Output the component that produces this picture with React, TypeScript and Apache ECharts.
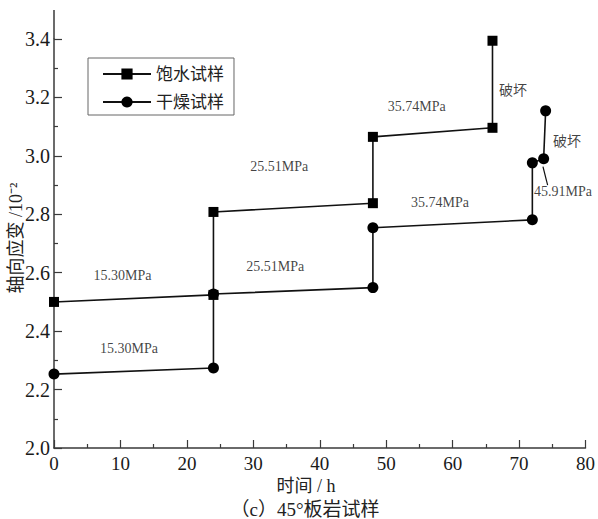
import React, { useEffect, useRef } from "react";
import * as echarts from "echarts";

// Saturated sample (饱水试样): time (h), axial strain (10^-2)
const saturatedTime = [0, 24, 24, 48, 48, 66, 66];
const saturatedStrain = [2.5, 2.524, 2.808, 2.838, 3.065, 3.096, 3.394];

// Dry sample (干燥试样)
const dryTime = [0, 24, 24, 48, 48, 72, 72, 73.7, 74];
const dryStrain = [2.253, 2.274, 2.527, 2.549, 2.754, 2.781, 2.976, 2.99, 3.154];

// Stress-level annotations in data coordinates: [time, strain, text]
const annotations: [number, number, string][] = [
  [10.3, 2.592, "15.30MPa"],
  [11.3, 2.342, "15.30MPa"],
  [33.9, 2.962, "25.51MPa"],
  [33.3, 2.62, "25.51MPa"],
  [54.6, 3.168, "35.74MPa"],
  [58.1, 2.839, "35.74MPa"],
  [76.6, 2.877, "45.91MPa"],
  [69.1, 3.223, "破坏"],
  [77.2, 3.048, "破坏"],
];
// Arrow from the 45.91MPa label to its point
const arrowFrom = [74.3, 2.9];
const arrowTo = [73.6, 2.963];

const seriesNames = ["饱水试样", "干燥试样"];
const xTicks = { min: 0, max: 80, interval: 10 };
const yTicks = { min: 2.0, max: 3.4, interval: 0.2 };

const serif = "Liberation Serif";
const cjk = "Liberation Serif, Noto Sans CJK SC, sans-serif";

export default function App() {
  const ref = useRef<HTMLDivElement>(null);
  useEffect(() => {
    if (!ref.current) return;
    const chart = echarts.init(ref.current, undefined, { renderer: "svg" });
    const axisColor = "#3a3a3a";
    const option: any = {
      animation: false,
      backgroundColor: "#ffffff",
      grid: { left: 54, right: 8, top: 39, bottom: 71, containLabel: false },
      legend: {
        data: seriesNames,
        orient: "vertical",
        left: 88,
        top: 58,
        padding: [7, 10, 4, 14],
        itemGap: 10,
        itemWidth: 48,
        itemHeight: 14,
        borderColor: "#666",
        borderWidth: 1,
        backgroundColor: "#fff",
        textStyle: { fontFamily: cjk, fontSize: 17, color: "#222", lineHeight: 18 },
      },
      xAxis: {
        type: "value",
        min: xTicks.min,
        max: xTicks.max,
        interval: xTicks.interval,
        axisLine: { show: true, lineStyle: { color: axisColor, width: 1.5 } },
        axisTick: { show: true, inside: true, length: 8, lineStyle: { color: axisColor, width: 1.2 } },
        minorTick: { show: true, splitNumber: 2, length: 4, lineStyle: { color: axisColor, width: 1.2 } },
        splitLine: { show: false },
        axisLabel: { fontFamily: serif, fontSize: 19, color: "#1a1a1a", margin: 6 },
      },
      yAxis: {
        type: "value",
        min: yTicks.min,
        max: yTicks.max,
        interval: yTicks.interval,
        axisLine: { show: true, lineStyle: { color: axisColor, width: 1.5 } },
        axisTick: { show: true, inside: true, length: 8, lineStyle: { color: axisColor, width: 1.2 } },
        minorTick: { show: true, splitNumber: 2, length: 4, lineStyle: { color: axisColor, width: 1.2 } },
        splitLine: { show: false },
        axisLabel: {
          fontFamily: serif,
          fontSize: 20,
          color: "#1a1a1a",
          margin: 4,
          formatter: (v: number) => v.toFixed(1),
        },
      },
      graphic: [
        {
          type: "line",
          shape: { x1: 54, y1: 10, x2: 54, y2: 39 },
          style: { stroke: axisColor, lineWidth: 1.5 },
        },
        {
          type: "text",
          x: 306,
          y: 486,
          style: {
            text: "时间 / h",
            fontFamily: cjk,
            fontSize: 18,
            fill: "#222",
            align: "center",
            verticalAlign: "middle",
          },
        },
        {
          type: "text",
          x: 305,
          y: 509,
          style: {
            text: "（c）45°板岩试样",
            fontFamily: cjk,
            fontSize: 19,
            fill: "#222",
            align: "center",
            verticalAlign: "middle",
          },
        },
        {
          type: "text",
          x: 16,
          y: 238,
          rotation: Math.PI / 2,
          style: {
            text: "轴向应变 /10⁻²",
            fontFamily: cjk,
            fontSize: 18,
            fill: "#222",
            align: "center",
            verticalAlign: "middle",
          },
        },
      ],
      series: [
        {
          name: seriesNames[0],
          type: "line",
          data: saturatedTime.map((t, i) => [t, saturatedStrain[i]]),
          symbol: "rect",
          symbolSize: 10,
          showAllSymbol: true,
          itemStyle: { color: "#000" },
          lineStyle: { color: "#111", width: 1.6 },
          z: 3,
        },
        {
          name: seriesNames[1],
          type: "line",
          data: dryTime.map((t, i) => [t, dryStrain[i]]),
          symbol: "circle",
          symbolSize: 11,
          showAllSymbol: true,
          itemStyle: { color: "#000" },
          lineStyle: { color: "#111", width: 1.6 },
          z: 4,
        },
        {
          name: "annotations",
          type: "scatter",
          data: annotations.map((a) => [a[0], a[1], a[2]]),
          symbolSize: 0,
          silent: true,
          z: 5,
          label: {
            show: true,
            position: "inside",
            formatter: (p: any) => p.data[2],
            fontFamily: cjk,
            fontSize: 14,
            color: "#111",
          },
          markLine: {
            silent: true,
            symbol: ["none", "arrow"],
            symbolSize: [0, 9],
            label: { show: false },
            lineStyle: { color: "#111", type: "solid", width: 1.2 },
            data: [[{ coord: arrowFrom }, { coord: arrowTo }]],
          },
        },
      ],
    };
    chart.setOption(option);
    return () => chart.dispose();
  }, []);
  return (
    <div
      ref={ref}
      style={{ position: "absolute", left: 0, top: 0, width: 598, height: 519, overflow: "hidden" }}
    />
  );
}
